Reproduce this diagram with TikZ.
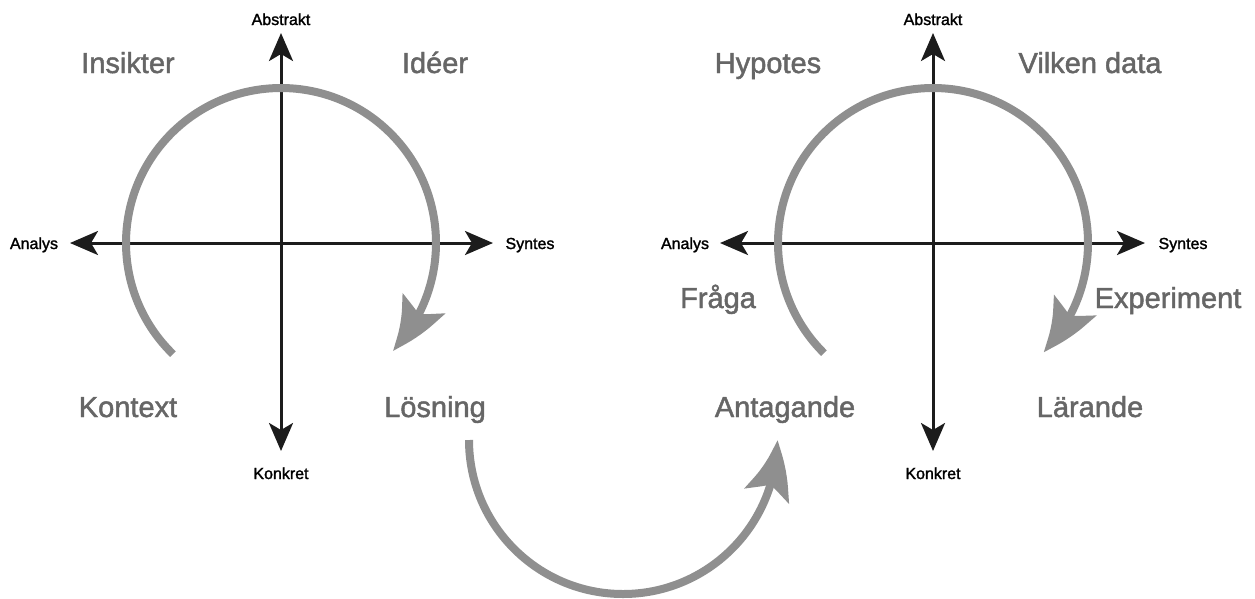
\documentclass[tikz,border=0pt]{standalone}
\usepackage{fontspec}
\setmainfont{Liberation Sans}
\newfontfamily\medfont[FakeBold=1.6]{Liberation Sans}
\usetikzlibrary{arrows.meta,bending}
\definecolor{txtgray}{HTML}{666666}
\definecolor{arcgray}{HTML}{8F8F8F}
\definecolor{axisblack}{HTML}{1C1C1C}
\tikzset{
  axis/.style={line width=3pt,draw=axisblack,{Stealth[length=28pt,width=24pt,inset=7pt]}-{Stealth[length=28pt,width=24pt,inset=7pt]}},
  cyc/.style={line width=8pt,draw=arcgray,-{Stealth[length=58pt,width=46pt,inset=12pt,bend]}},
  big/.style={text=txtgray,font=\medfont\fontsize{29}{34}\selectfont,inner sep=0pt,anchor=base},
  axlab/.style={text=black,font=\medfont\fontsize{16}{19}\selectfont,inner sep=0pt,anchor=base}
}
\begin{document}
\begin{tikzpicture}[x=1pt,y=-1pt]
\useasboundingbox (0,0) rectangle (1255,598);
% left diagram
\coordinate (LT) at (281,33);
\coordinate (LB) at (281,451);
\coordinate (LL) at (70,243);
\coordinate (LR) at (493,243);
\draw[axis] (LT) -- (LB);
\draw[axis] (LL) -- (LR);
\node[axlab] (abs1) at (281,25) {Abstrakt};
\node[axlab] (kon1) at (281,479) {Konkret};
\node[axlab] (ana1) at (34,249) {Analys};
\node[axlab] (syn1) at (530,249) {Syntes};
\draw[cyc] (281,243) ++(134.2:155) arc[start angle=134.2, end angle=404, radius=155];
\node[big] (ins) at (128,73) {Insikter};
\node[big] (ide) at (435,73) {Idéer};
\node[big] (kont) at (128,417) {Kontext};
\node[big] (los) at (435,417) {Lösning};
% right diagram
\coordinate (RT) at (933,33);
\coordinate (RB) at (933,451);
\coordinate (RL) at (720,243);
\coordinate (RR) at (1145,243);
\draw[axis] (RT) -- (RB);
\draw[axis] (RL) -- (RR);
\node[axlab] (abs2) at (933,25) {Abstrakt};
\node[axlab] (kon2) at (933,479) {Konkret};
\node[axlab] (ana2) at (685,249) {Analys};
\node[axlab] (syn2) at (1183,249) {Syntes};
\draw[cyc] (933,243) ++(134.7:155) arc[start angle=134.7, end angle=404.7, radius=155];
\node[big] (hyp) at (768,73) {Hypotes};
\node[big] (vil) at (1090,73) {Vilken data};
\node[big] (fra) at (718,308) {Fråga};
\node[big] (exp) at (1168,308) {Experiment};
\node[big] (ant) at (785,417) {Antagande};
\node[big] (lar) at (1090,417) {Lärande};
% bottom transition arc
\draw[cyc] (623,440) ++(180:154) arc[start angle=180, end angle=0, radius=154];
\end{tikzpicture}
\end{document}
